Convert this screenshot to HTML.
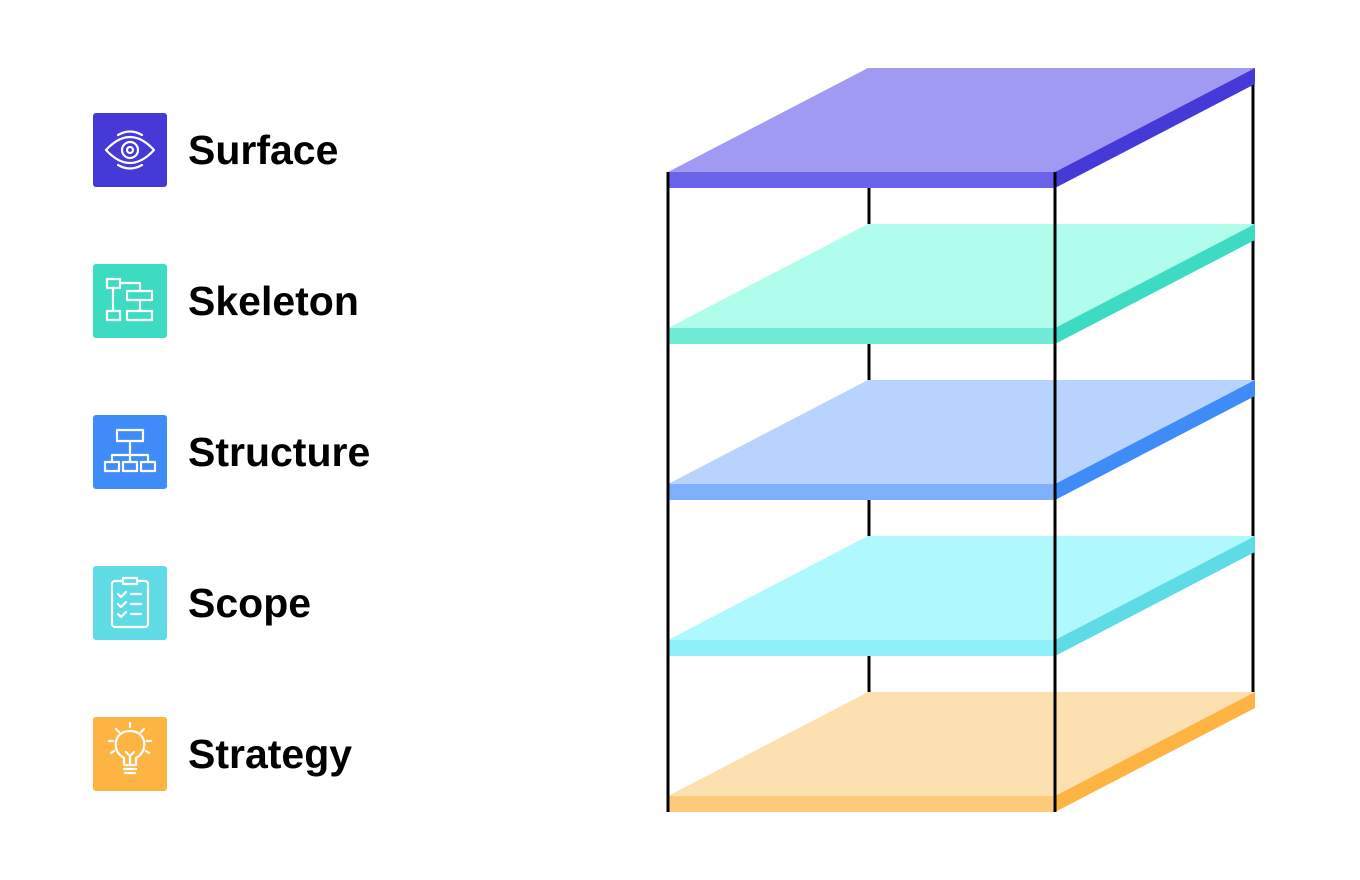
<!DOCTYPE html>
<html><head><meta charset="utf-8"><style>
html,body{margin:0;padding:0;background:#fff;width:1360px;height:880px;overflow:hidden}
.t{font-family:"Liberation Sans",sans-serif;font-weight:bold;font-size:41px;fill:#000;letter-spacing:0px}
</style></head><body>
<svg width="1360" height="880" viewBox="0 0 1360 880" xmlns="http://www.w3.org/2000/svg">
<line x1="869" y1="68" x2="869" y2="692" stroke="#000" stroke-width="3"/>
<line x1="1253" y1="68" x2="1253" y2="692" stroke="#000" stroke-width="3"/>
<g>
<polygon points="668,172 868,68 1255,68 1055,172" fill="#a09af3"/>
<rect x="668" y="172" width="387" height="16" fill="#6b63ea"/>
<polygon points="1055,172 1255,68 1255,84 1055,188" fill="#4539d8"/>
</g>
<g transform="translate(0,156)">
<polygon points="668,172 868,68 1255,68 1055,172" fill="#b0fdec"/>
<rect x="668" y="172" width="387" height="16" fill="#72ebd6"/>
<polygon points="1055,172 1255,68 1255,84 1055,188" fill="#3ddbc1"/>
</g>
<g transform="translate(0,312)">
<polygon points="668,172 868,68 1255,68 1055,172" fill="#b8d3fe"/>
<rect x="668" y="172" width="387" height="16" fill="#7fb0fc"/>
<polygon points="1055,172 1255,68 1255,84 1055,188" fill="#3f8cf8"/>
</g>
<g transform="translate(0,468)">
<polygon points="668,172 868,68 1255,68 1055,172" fill="#aff8fd"/>
<rect x="668" y="172" width="387" height="16" fill="#8ef1f9"/>
<polygon points="1055,172 1255,68 1255,84 1055,188" fill="#5fdbe6"/>
</g>
<g transform="translate(0,624)">
<polygon points="668,172 868,68 1255,68 1055,172" fill="#fde0b0"/>
<rect x="668" y="172" width="387" height="16" fill="#fdca7a"/>
<polygon points="1055,172 1255,68 1255,84 1055,188" fill="#fdb442"/>
</g>
<line x1="668" y1="172" x2="668" y2="812" stroke="#000" stroke-width="3"/>
<line x1="1055" y1="172" x2="1055" y2="812" stroke="#000" stroke-width="3"/>

<g fill="none" stroke="#fff" stroke-width="2.2" stroke-linecap="round" stroke-linejoin="round">
<rect x="93" y="113" width="74" height="74" rx="3" fill="#4539d8" stroke="none"/>
<path d="M106,150 Q130,124 154,150 Q130,176 106,150 Z"/>
<circle cx="130" cy="150" r="8"/><circle cx="130" cy="150" r="3"/>
<path d="M118,135 Q130,128 142,135 M118,165 Q130,172 142,165"/>

<rect x="93" y="264" width="74" height="74" rx="3" fill="#3ddbc1" stroke="none"/>
<rect x="107" y="279" width="13" height="9"/><rect x="107" y="311" width="13" height="9"/>
<rect x="127" y="291" width="25" height="9"/><rect x="127" y="311" width="25" height="9"/>
<path d="M113,288 V311 M120,283 H140 V291 M140,300 V311"/>

<rect x="93" y="415" width="74" height="74" rx="3" fill="#3f8cf8" stroke="none"/>
<rect x="117" y="430" width="26" height="11"/>
<path d="M130,441 V455 M112,462 V455 H148 V462 M130,455 V462"/>
<rect x="105" y="462" width="14" height="9"/><rect x="123" y="462" width="14" height="9"/><rect x="141" y="462" width="14" height="9"/>

<rect x="93" y="566" width="74" height="74" rx="3" fill="#5fdbe6" stroke="none"/>
<rect x="112" y="581" width="36" height="46" rx="3"/>
<rect x="123" y="578" width="14" height="6" fill="#5fdbe6"/>
<path d="M118,594 l3,3 l5,-5 M118,604 l3,3 l5,-5 M118,614 l3,3 l5,-5 M131,594 H141 M131,604 H141 M131,614 H141"/>

<rect x="93" y="717" width="74" height="74" rx="3" fill="#fdb442" stroke="none"/>
<path d="M124,765 V758 Q114,752 116,741 Q119,731 130,731 Q141,731 144,741 Q146,752 136,758 V765 Z"/>
<path d="M124,769 H136 M125,773 H135 M126,752 L130,756 L134,752 M130,756 V765"/>
<path d="M130,723 V727 M116,729 l3,3 M144,729 l-3,3 M109,741 h4 M147,741 h4 M111,753 l3,-2 M149,753 l-3,-2"/>
</g>
<text class="t" x="188" y="164">Surface</text>
<text class="t" x="188" y="315">Skeleton</text>
<text class="t" x="188" y="466">Structure</text>
<text class="t" x="188" y="617">Scope</text>
<text class="t" x="188" y="768">Strategy</text>
</svg>
</body></html>
